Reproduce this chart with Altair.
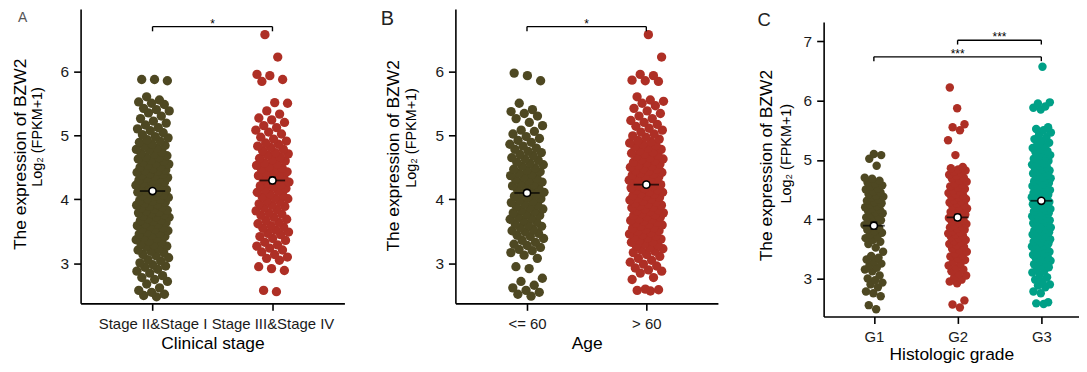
import altair as alt
import pandas as pd

FONT = "Liberation Sans"
OLIVE = "#4E4822"
RED = "#AE2F25"
TEAL = "#00A087"

# ---------------- Panel A : clinical stage ----------------
stage_labels = ["Stage II&Stage I", "Stage III&Stage IV"]
stage_12 = [2.48, 2.50, 2.52, 2.55, 2.58, 2.62, 2.68, 2.72, 2.75, 2.78, 2.81, 2.85, 2.88, 2.91, 2.94, 2.96, 2.98,
            3.01, 3.04, 3.06, 3.09, 3.12, 3.14, 3.17, 3.19, 3.21, 3.23, 3.26, 3.27, 3.29, 3.31, 3.34, 3.35, 3.37, 3.39,
            3.41, 3.42, 3.44, 3.46, 3.47, 3.49, 3.51, 3.53, 3.54, 3.56, 3.58, 3.59, 3.61, 3.62, 3.64, 3.66, 3.67, 3.68,
            3.70, 3.72, 3.73, 3.74, 3.76, 3.78, 3.79, 3.80, 3.82, 3.83, 3.85, 3.87, 3.88, 3.89, 3.91, 3.92, 3.94, 3.96,
            3.97, 3.98, 4.00, 4.01, 4.03, 4.05, 4.06, 4.07, 4.09, 4.11, 4.12, 4.13, 4.15, 4.17, 4.18, 4.19, 4.21, 4.22,
            4.24, 4.26, 4.27, 4.28, 4.30, 4.32, 4.33, 4.34, 4.36, 4.38, 4.39, 4.40, 4.42, 4.44, 4.45, 4.46, 4.48, 4.50,
            4.51, 4.53, 4.55, 4.56, 4.58, 4.60, 4.61, 4.63, 4.65, 4.66, 4.68, 4.71, 4.72, 4.74, 4.77, 4.78, 4.80, 4.83,
            4.84, 4.86, 4.89, 4.91, 4.93, 4.96, 4.98, 5.01, 5.04, 5.07, 5.10, 5.12, 5.16, 5.19, 5.22, 5.26, 5.30, 5.35,
            5.38, 5.40, 5.42, 5.48, 5.50, 5.52, 5.55, 5.60, 5.85, 5.87, 5.87]
stage_34 = [2.56, 2.58, 2.89, 2.92, 2.95, 3.05, 3.08, 3.10, 3.14, 3.18, 3.21, 3.24, 3.27, 3.29, 3.33, 3.36, 3.39,
            3.42, 3.45, 3.47, 3.49, 3.52, 3.55, 3.57, 3.59, 3.62, 3.64, 3.67, 3.69, 3.72, 3.75, 3.77, 3.79, 3.82,
            3.84, 3.87, 3.89, 3.91, 3.93, 3.96, 3.98, 4.01, 4.02, 4.04, 4.06, 4.08, 4.11, 4.13, 4.15, 4.17, 4.19,
            4.21, 4.23, 4.25, 4.27, 4.29, 4.31, 4.33, 4.35, 4.37, 4.39, 4.41, 4.43, 4.45, 4.47, 4.49, 4.51, 4.53,
            4.55, 4.57, 4.60, 4.62, 4.64, 4.66, 4.69, 4.71, 4.73, 4.76, 4.78, 4.81, 4.83, 4.86, 4.88, 4.91, 4.94,
            4.97, 5.02, 5.05, 5.08, 5.12, 5.15, 5.20, 5.24, 5.27, 5.33, 5.38, 5.50, 5.51, 5.84, 5.87, 5.93, 5.95,
            6.22, 6.57]
stage_means = [4.13, 4.295]
stage_se = [0.035, 0.05]

# ---------------- Panel B : age ----------------
age_labels = ["<= 60", "> 60"]
age_le60 = [2.49, 2.52, 2.55, 2.58, 2.62, 2.66, 2.72, 2.77, 2.92, 2.95, 3.08, 3.13, 3.17, 3.20, 3.22, 3.25, 3.28,
            3.30, 3.33, 3.36, 3.39, 3.42, 3.44, 3.47, 3.49, 3.51, 3.53, 3.56, 3.58, 3.60, 3.62, 3.65, 3.67, 3.69,
            3.71, 3.73, 3.75, 3.77, 3.79, 3.81, 3.83, 3.85, 3.87, 3.89, 3.91, 3.93, 3.95, 3.97, 3.99, 4.01, 4.03,
            4.05, 4.07, 4.09, 4.11, 4.13, 4.15, 4.17, 4.19, 4.21, 4.23, 4.25, 4.27, 4.29, 4.31, 4.33, 4.35, 4.37,
            4.39, 4.41, 4.43, 4.45, 4.47, 4.49, 4.52, 4.54, 4.56, 4.58, 4.61, 4.63, 4.65, 4.68, 4.70, 4.73, 4.75,
            4.78, 4.80, 4.83, 4.86, 4.89, 4.92, 4.95, 4.98, 5.02, 5.06, 5.08, 5.15, 5.20, 5.26, 5.30, 5.34, 5.37,
            5.40, 5.50, 5.85, 5.93, 5.97]
age_gt60 = [2.57, 2.58, 2.59, 2.60, 2.75, 2.78, 2.85, 2.88, 2.90, 2.93, 2.96, 2.99, 3.02, 3.05, 3.08, 3.11, 3.14,
            3.17, 3.19, 3.21, 3.23, 3.25, 3.27, 3.29, 3.31, 3.33, 3.34, 3.36, 3.38, 3.40, 3.41, 3.43, 3.45, 3.46,
            3.48, 3.50, 3.51, 3.53, 3.55, 3.56, 3.58, 3.60, 3.61, 3.63, 3.64, 3.66, 3.67, 3.69, 3.70, 3.72, 3.73,
            3.75, 3.76, 3.78, 3.79, 3.81, 3.82, 3.84, 3.85, 3.87, 3.88, 3.90, 3.91, 3.93, 3.94, 3.96, 3.97, 3.99,
            4.00, 4.02, 4.03, 4.05, 4.06, 4.08, 4.09, 4.11, 4.12, 4.14, 4.15, 4.17, 4.18, 4.20, 4.21, 4.23, 4.24,
            4.26, 4.27, 4.29, 4.30, 4.32, 4.33, 4.35, 4.36, 4.38, 4.39, 4.41, 4.42, 4.44, 4.45, 4.47, 4.48, 4.50,
            4.52, 4.53, 4.55, 4.57, 4.58, 4.60, 4.62, 4.63, 4.65, 4.67, 4.69, 4.71, 4.72, 4.74, 4.76, 4.78, 4.80,
            4.82, 4.84, 4.86, 4.88, 4.90, 4.92, 4.94, 4.97, 4.99, 5.02, 5.05, 5.08, 5.11, 5.14, 5.17, 5.20, 5.23,
            5.26, 5.30, 5.34, 5.38, 5.42, 5.46, 5.50, 5.53, 5.55, 5.60, 5.84, 5.85, 5.86, 5.93, 5.95, 6.22, 6.57]
age_means = [4.10, 4.23]
age_se = [0.04, 0.035]

# ---------------- Panel C : histologic grade ----------------
grade_labels = ["G1", "G2", "G3"]
grade_g1 = [2.48, 2.55, 2.70, 2.75, 2.78, 2.85, 2.90, 2.93, 2.97, 3.00, 3.05, 3.12, 3.15, 3.18, 3.22, 3.25, 3.28,
            3.32, 3.35, 3.38, 3.45, 3.52, 3.58, 3.62, 3.65, 3.68, 3.71, 3.74, 3.77, 3.80, 3.82, 3.85, 3.88, 3.90,
            3.93, 3.96, 3.98, 4.01, 4.03, 4.05, 4.08, 4.10, 4.12, 4.14, 4.16, 4.18, 4.20, 4.22, 4.25, 4.27, 4.29,
            4.31, 4.33, 4.36, 4.38, 4.40, 4.42, 4.45, 4.47, 4.50, 4.52, 4.55, 4.57, 4.60, 4.62, 4.65, 4.68, 4.70,
            4.90, 5.02, 5.08, 5.10]
grade_g2 = [2.51, 2.56, 2.63, 2.92, 2.95, 2.98, 3.02, 3.05, 3.08, 3.12, 3.15, 3.18, 3.22, 3.25, 3.28, 3.31, 3.34,
            3.37, 3.39, 3.42, 3.45, 3.48, 3.50, 3.53, 3.56, 3.58, 3.61, 3.63, 3.65, 3.68, 3.70, 3.72, 3.74, 3.76,
            3.78, 3.80, 3.82, 3.84, 3.86, 3.88, 3.90, 3.92, 3.94, 3.96, 3.98, 4.00, 4.02, 4.04, 4.06, 4.08, 4.10,
            4.12, 4.14, 4.16, 4.18, 4.20, 4.22, 4.24, 4.26, 4.28, 4.30, 4.32, 4.34, 4.36, 4.38, 4.40, 4.42, 4.44,
            4.46, 4.48, 4.51, 4.53, 4.55, 4.58, 4.60, 4.63, 4.65, 4.68, 4.70, 4.73, 4.75, 4.78, 4.80, 4.82, 4.84,
            4.86, 4.88, 5.08, 5.33, 5.50, 5.55, 5.60, 5.87, 6.22]
grade_g3 = [2.57, 2.58, 2.60, 2.75, 2.78, 2.85, 2.88, 2.90, 2.95, 2.98, 3.02, 3.06, 3.10, 3.13, 3.16, 3.19, 3.22,
            3.24, 3.26, 3.28, 3.30, 3.32, 3.34, 3.36, 3.38, 3.40, 3.42, 3.43, 3.45, 3.47, 3.49, 3.50, 3.52, 3.54,
            3.55, 3.57, 3.59, 3.60, 3.62, 3.63, 3.65, 3.66, 3.68, 3.69, 3.71, 3.72, 3.74, 3.75, 3.77, 3.78, 3.80,
            3.81, 3.83, 3.84, 3.86, 3.87, 3.89, 3.90, 3.92, 3.93, 3.95, 3.96, 3.98, 3.99, 4.01, 4.02, 4.04, 4.05,
            4.07, 4.08, 4.10, 4.11, 4.13, 4.14, 4.16, 4.17, 4.19, 4.20, 4.22, 4.23, 4.25, 4.26, 4.28, 4.29, 4.31,
            4.32, 4.34, 4.35, 4.37, 4.38, 4.40, 4.41, 4.43, 4.44, 4.46, 4.47, 4.49, 4.50, 4.52, 4.53, 4.55, 4.56,
            4.58, 4.59, 4.61, 4.62, 4.64, 4.65, 4.67, 4.69, 4.70, 4.72, 4.74, 4.75, 4.77, 4.79, 4.80, 4.82, 4.84,
            4.86, 4.88, 4.90, 4.92, 4.94, 4.96, 4.98, 5.00, 5.02, 5.04, 5.06, 5.08, 5.11, 5.13, 5.15, 5.18, 5.20,
            5.23, 5.26, 5.29, 5.32, 5.35, 5.38, 5.42, 5.46, 5.50, 5.52, 5.55, 5.85, 5.88, 5.90, 5.95, 5.97, 6.57]
grade_means = [3.89, 4.03, 4.31]
grade_se = [0.06, 0.05, 0.035]

# significance brackets: (left group, right group, height, label)
stage_sig = [(1, 2, 6.695, "*")]
age_sig = [(1, 2, 6.695, "*")]
grade_sig = [(2, 3, 7.017, "***"), (1, 3, 6.737, "***")]

Y_TITLE_1 = "The expression of BZW2"
Y_TITLE_2 = "Log\u2082 (FPKM+1)"


def panel(groups, labels, colors, means, ses, sig, *, xdom, ydom, yticks, width, height, jit,
          pt_size, bar_px, drop, x_title, letter, letter_font, letter_x, letter_y,
          t1_x, t1_y, t2_x, t2_y, bound_left, star_size, x_title_y):
    n = len(labels)
    label_expr = "[" + ",".join("'" + s + "'" for s in labels) + "][datum.value - 1]"
    xsc = alt.Scale(domain=xdom, nice=False, zero=False)
    ysc = alt.Scale(domain=ydom, nice=False, zero=False)
    common = dict(domainColor="black", domainWidth=1.6, tickColor="black", tickWidth=1.6, tickSize=7,
                  labelFont=FONT, labelColor="#1a1a1a", grid=False,
                  titleFont=FONT, titleFontSize=17.5, titleFontWeight="normal", titleColor="black",
                  labelOverlap=False, labelFlush=False)
    xax = alt.Axis(values=list(range(1, n + 1)), labelExpr=label_expr, title=x_title, labelPadding=6.5,
                   labelFontSize=15, titleY=x_title_y, titleBaseline="top", **common)
    yax = alt.Axis(values=yticks, format="d", title=Y_TITLE_1, labelPadding=5, labelFontSize=15.5,
                   titleAngle=270, titleX=t1_x, titleY=t1_y, titleAlign="center",
                   titleBaseline="alphabetic", **common)

    pts = pd.DataFrame([{"pos": i + 1, "val": v, "col": colors[i]}
                        for i, g in enumerate(groups) for v in g])
    mdf = pd.DataFrame({"pos": list(range(1, n + 1)), "mean": means,
                        "lo": [m - s for m, s in zip(means, ses)],
                        "hi": [m + s for m, s in zip(means, ses)]})
    bdf = pd.DataFrame([{"x1": a, "x2": b, "y": h, "yd": h - drop, "xm": (a + b) / 2, "lab": t}
                        for a, b, h, t in sig])

    points = alt.Chart(pts).transform_window(
        idx="row_number()", groupby=["pos"]
    ).transform_calculate(
        xj=f"datum.pos + ((datum.idx * 0.6180339887) % 1 - 0.5) * {2 * jit}"
    ).mark_circle(size=pt_size, opacity=1).encode(
        x=alt.X("xj:Q", scale=xsc, axis=xax),
        y=alt.Y("val:Q", scale=ysc, axis=yax),
        color=alt.Color("col:N", scale=None),
    )
    mean_base = alt.Chart(mdf)
    bar = mean_base.mark_tick(orient="horizontal", size=bar_px, thickness=1.8, color="black").encode(
        x=alt.X("pos:Q", scale=xsc, axis=xax), y=alt.Y("mean:Q", scale=ysc, axis=yax))
    se_rule = mean_base.mark_rule(color="black", strokeWidth=1.4).encode(
        x=alt.X("pos:Q", scale=xsc, axis=xax), y=alt.Y("lo:Q", scale=ysc, axis=yax), y2="hi:Q")
    cap_lo = mean_base.mark_tick(orient="horizontal", size=7, thickness=1.4, color="black").encode(
        x=alt.X("pos:Q", scale=xsc, axis=xax), y=alt.Y("lo:Q", scale=ysc, axis=yax))
    cap_hi = mean_base.mark_tick(orient="horizontal", size=7, thickness=1.4, color="black").encode(
        x=alt.X("pos:Q", scale=xsc, axis=xax), y=alt.Y("hi:Q", scale=ysc, axis=yax))
    dot = mean_base.mark_point(shape="circle", filled=True, fill="white", stroke="black",
                               strokeWidth=1.6, size=52, opacity=1).encode(
        x=alt.X("pos:Q", scale=xsc, axis=xax), y=alt.Y("mean:Q", scale=ysc, axis=yax))

    sig_base = alt.Chart(bdf)
    br_h = sig_base.mark_rule(color="black", strokeWidth=1.4).encode(
        x=alt.X("x1:Q", scale=xsc, axis=xax), x2="x2:Q", y=alt.Y("y:Q", scale=ysc, axis=yax))
    br_l = sig_base.mark_rule(color="black", strokeWidth=1.4).encode(
        x=alt.X("x1:Q", scale=xsc, axis=xax), y=alt.Y("y:Q", scale=ysc, axis=yax), y2="yd:Q")
    br_r = sig_base.mark_rule(color="black", strokeWidth=1.4).encode(
        x=alt.X("x2:Q", scale=xsc, axis=xax), y=alt.Y("y:Q", scale=ysc, axis=yax), y2="yd:Q")
    stars = sig_base.mark_text(font=FONT, fontSize=star_size, color="black", baseline="alphabetic",
                               align="center", dy=1).encode(
        x=alt.X("xm:Q", scale=xsc, axis=xax), y=alt.Y("y:Q", scale=ysc, axis=yax), text="lab:N")

    one = pd.DataFrame({"t": [letter]})
    letter_mark = alt.Chart(one).mark_text(font=FONT, fontSize=letter_font[0], color=letter_font[1],
                                           align="center", baseline="alphabetic").encode(
        x=alt.value(letter_x), y=alt.value(letter_y), text="t:N")
    line2 = alt.Chart(pd.DataFrame({"t": [Y_TITLE_2]})).mark_text(
        font=FONT, fontSize=14.5, color="black", angle=270, align="center", baseline="alphabetic").encode(
        x=alt.value(t2_x), y=alt.value(t2_y), text="t:N")
    bounds = alt.Chart(pd.DataFrame({"k": [0]})).mark_rule(opacity=0).encode(
        x=alt.value(bound_left), x2=alt.value(0), y=alt.value(0), y2=alt.value(0))

    return alt.layer(points, bar, se_rule, cap_lo, cap_hi, dot, br_h, br_l, br_r, stars,
                     letter_mark, line2, bounds).properties(width=width, height=height)


pA = panel([stage_12, stage_34], stage_labels, [OLIVE, RED], stage_means, stage_se, stage_sig,
           xdom=[0.4, 2.6], ydom=[2.378, 6.97], yticks=[3, 4, 5, 6], width=265.3, height=296,
           jit=0.14, pt_size=88, bar_px=25.5, drop=0.073, x_title="Clinical stage",
           letter="A", letter_font=(14, "#555555"), letter_x=-58.2, letter_y=12.9,
           t1_x=-55.5, t1_y=145.7, t2_x=-39, t2_y=128.7, bound_left=-72.7,
           star_size=12, x_title_y=31)
pB = panel([age_le60, age_gt60], age_labels, [OLIVE, RED], age_means, age_se, age_sig,
           xdom=[0.4, 2.6], ydom=[2.378, 6.97], yticks=[3, 4, 5, 6], width=264, height=296,
           jit=0.145, pt_size=88, bar_px=25.5, drop=0.073, x_title="Age",
           letter="B", letter_font=(20, "#222222"), letter_x=-68.5, letter_y=16.2,
           t1_x=-57.5, t1_y=147.2, t2_x=-39.4, t2_y=129.7, bound_left=-76,
           star_size=12, x_title_y=31)
pC = panel([grade_g1, grade_g2, grade_g3], grade_labels, [OLIVE, RED, TEAL], grade_means, grade_se,
           grade_sig, xdom=[0.4, 3.45], ydom=[2.359, 7.323], yticks=[3, 4, 5, 6, 7], width=256.8,
           height=296, jit=0.115, pt_size=72, bar_px=22, drop=0.072, x_title="Histologic grade",
           letter="C", letter_font=(18.5, "#222222"), letter_x=-59.7, letter_y=3.8,
           t1_x=-52.7, t1_y=143.8, t2_x=-33, t2_y=132.3, bound_left=-73,
           star_size=12, x_title_y=29.5)

# empty spacer view that pushes panel C down relative to panels A and B
spacer = alt.Chart(pd.DataFrame({"k": [0]})).mark_rule(opacity=0).encode(
    x=alt.value(0), y=alt.value(0)).properties(width=10, height=1)
colC = alt.vconcat(spacer, pC, spacing=0.2)

chart = alt.hconcat(alt.hconcat(pA, pB, spacing=34.9), colC, spacing=33.2).properties(
    padding=0
).configure_view(strokeWidth=0)

chart.save("out.html", embed_options={"renderer": "svg", "actions": False})
